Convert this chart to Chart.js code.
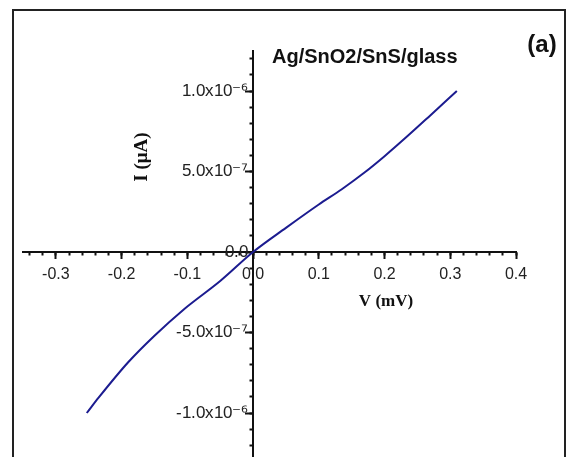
<!DOCTYPE html>
<html>
<head>
<meta charset="utf-8">
<title>Ag/SnO2/SnS/glass I-V</title>
<script src="https://cdn.jsdelivr.net/npm/chart.js@4.4.0/dist/chart.umd.min.js"></script>
<style>
/* superscript digits come from DejaVu, the rest from Liberation Sans */
@font-face { font-family: 'TickSans'; src: local('DejaVu Sans'), local('DejaVuSans'); unicode-range: U+2070-209F; }
@font-face { font-family: 'TickSans'; src: local('Liberation Sans'), local('LiberationSans'), local('Arial'); unicode-range: U+0000-206F; }
html, body { margin: 0; padding: 0; background: #fff; overflow: hidden; }
#wrap { position: relative; width: 569px; height: 457px; overflow: hidden; }
#ivChart { position: absolute; left: 0; top: 0; }
#frame { position: absolute; left: 12px; top: 9px; width: 554px; height: 470px; border: 2px solid #222; box-sizing: border-box; pointer-events: none; }
</style>
</head>
<body>
<div id="wrap">
  <canvas id="ivChart" width="569" height="475"></canvas>
  <div id="frame"></div>
</div>
<script>
// values: V in mV, I in A
const voltage = [-0.253, -0.235, -0.19, -0.15, -0.105, -0.05, 0, 0.05, 0.1, 0.135, 0.17, 0.2, 0.235, 0.27, 0.31];
const current = [-1.0e-6, -9.05e-7, -6.85e-7, -5.2e-7, -3.55e-7, -1.8e-7, 0, 1.5e-7, 2.95e-7, 3.9e-7, 4.95e-7, 5.95e-7, 7.2e-7, 8.5e-7, 1.0e-6];

const xMajorTicks = [-0.3, -0.2, -0.1, 0, 0.1, 0.2, 0.3, 0.4];
const xTickLabels = ['-0.3', '-0.2', '-0.1', '0.0', '0.1', '0.2', '0.3', '0.4'];
const yMajorTicks = [-1.0e-6, -5.0e-7, 0, 5.0e-7, 1.0e-6];
const yTickLabels = ['-1.0x10\u207B\u2076 ', '-5.0x10\u207B\u2077 ', '0.0 ', '5.0x10\u207B\u2077 ', '1.0x10\u207B\u2076 '];

const xMin = -0.35, xMax = 0.4, xMinorStep = 0.02;
const yMin = -1.3e-6, yMax = 1.25e-6, yMinorStep = 1e-7;

const sans = "'Liberation Sans', Arial, sans-serif";
const tickSans = "TickSans, 'Liberation Sans', Arial, sans-serif";
const serif = "'Liberation Serif', 'Times New Roman', serif";
const ink = '#111';

function minorTicks(min, max, step) {
    let out = [];
    let n0 = Math.ceil(min / step - 1e-9);
    let n1 = Math.floor(max / step + 1e-9);
    for (let n = n0; n <= n1; n++) {
        out.push({ value: n * step });
    }
    return out;
}

function axisBase(min, max, tickLen) {
    return {
        type: 'linear',
        min: min,
        max: max,
        grid: {
            drawOnChartArea: false,
            drawTicks: true,
            tickLength: tickLen,
            tickWidth: 2,
            tickColor: ink
        },
        border: { display: true, color: ink, width: 2 }
    };
}

// text that sits on the plot: panel title, label and axis names
const labelsPlugin = {
    id: 'plotTexts',
    afterDraw(chart) {
        const ctx = chart.ctx;
        ctx.save();
        ctx.fillStyle = ink;
        ctx.textBaseline = 'middle';

        ctx.font = 'bold 20px ' + sans;
        ctx.textAlign = 'left';
        ctx.fillText('Ag/SnO2/SnS/glass', 272, 57);

        ctx.font = 'bold 24px ' + sans;
        ctx.textAlign = 'center';
        ctx.fillText('(a)', 542, 45);

        ctx.font = 'bold 17px ' + serif;
        ctx.fillText('V (mV)', 386, 302);

        ctx.translate(142, 157);
        ctx.rotate(-Math.PI / 2);
        ctx.font = 'bold 19px ' + serif;
        ctx.fillText('I (\u03BCA)', 0, 0);
        ctx.restore();
    }
};

let xAxis = axisBase(xMin, xMax, 6);
xAxis.position = { y: 0 };
xAxis.afterBuildTicks = s => { s.ticks = xMajorTicks.map(v => ({ value: v })); };
xAxis.afterFit = s => { s.height = 0; };
xAxis.ticks = {
    autoSkip: false,
    maxRotation: 0,
    padding: 7,
    color: '#222',
    font: { family: sans, size: 16 },
    callback: (v, i) => xTickLabels[i]
};

let xMinor = axisBase(xMin, xMax, 3.5);
xMinor.axis = 'x';
xMinor.position = { y: 0 };
xMinor.afterBuildTicks = s => { s.ticks = minorTicks(xMin, xMax, xMinorStep); };
xMinor.afterFit = s => { s.height = 0; };
xMinor.border = { display: false };
xMinor.ticks = { display: false, autoSkip: false };

let yAxis = axisBase(yMin, yMax, 7);
yAxis.position = { x: 0 };
yAxis.afterBuildTicks = s => { s.ticks = yMajorTicks.map(v => ({ value: v })); };
yAxis.afterFit = s => { s.width = 0; };
yAxis.ticks = {
    autoSkip: false,
    color: '#222',
    font: { family: tickSans, size: 17 },
    callback: (v, i) => yTickLabels[i]
};

let yMinor = axisBase(yMin, yMax, 3.5);
yMinor.axis = 'y';
yMinor.position = { x: 0 };
yMinor.afterBuildTicks = s => { s.ticks = minorTicks(yMin, yMax, yMinorStep); };
yMinor.afterFit = s => { s.width = 0; };
yMinor.border = { display: false };
yMinor.ticks = { display: false, autoSkip: false };

const ivData = {
    datasets: [{
        label: 'Ag/SnO2/SnS/glass',
        data: voltage.map((v, i) => ({ x: v, y: current[i] })),
        showLine: true,
        borderColor: '#1c1c90',
        borderWidth: 2,
        pointRadius: 0,
        cubicInterpolationMode: 'monotone'
    }]
};

function drawChart() {
    new Chart(document.getElementById('ivChart'), {
        type: 'scatter',
        data: ivData,
        options: {
            responsive: false,
            animation: false,
            layout: { padding: { left: 23, right: 53, top: 50.75, bottom: 13.7 } },
            plugins: {
                legend: { display: false },
                tooltip: { enabled: false }
            },
            scales: {
                x: xAxis,
                xMinor: xMinor,
                y: yAxis,
                yMinor: yMinor
            }
        },
        plugins: [labelsPlugin]
    });
}

document.fonts.load('17px TickSans', '1.0x10\u207B\u2076').then(drawChart, drawChart);
</script>
</body>
</html>
